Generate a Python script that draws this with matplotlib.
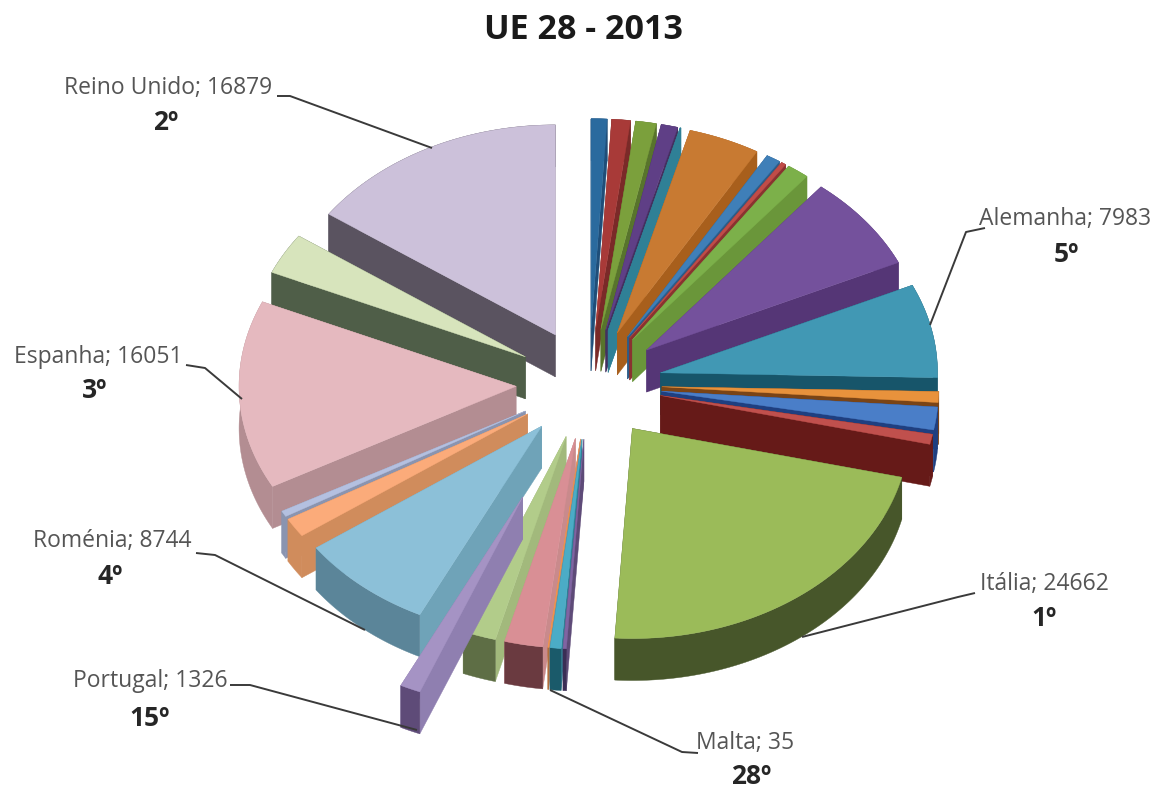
import numpy as np
import matplotlib
matplotlib.use("Agg")
import matplotlib.pyplot as plt

# Slices clockwise from 12 o'clock, only some of them carry a name
names = ["", "", "", "", "", "", "", "", "", "", "Alemanha", "", "", "", "Itália",
         "", "", "Malta", "", "", "Portugal", "Roménia", "", "", "Espanha", "", "Reino Unido"]
values = [1020, 1200, 1330, 1080, 60, 4620, 925, 310, 1450, 8100, 7983, 925, 1940, 860, 24662,
          215, 710, 35, 2470, 2160, 1326, 8744, 1640, 500, 16051, 3500, 16879]
ranks = {"Reino Unido": "2º", "Alemanha": "5º", "Espanha": "3º", "Itália": "1º",
         "Roménia": "4º", "Portugal": "15º", "Malta": "28º"}

top_colors = ["#2a6a9e", "#a83a38", "#7ba03c", "#5f3f86", "#2f8096", "#c87a32", "#3f7fb8", "#c04c48",
              "#7cb04a", "#74519c", "#4198b4", "#e8923c", "#4a7ec8", "#c0504d", "#9bbb59",
              "#8064a2", "#4bacc6", "#f79646", "#d98f95", "#b2cc8a", "#a593c4", "#8cc0d8",
              "#fbab7a", "#b4c0e0", "#e5b9bf", "#d7e4bc", "#ccc1da"]
rim_colors = ["#1f4e79", "#7a2a28", "#58742c", "#44305f", "#2f8096", "#a85f1c", "#2c5c88", "#8a3230",
              "#6a963a", "#553676", "#17556a", "#7a4416", "#1f3f80", "#661a18", "#47562a",
              "#3b2e55", "#1a5a6a", "#a8642c", "#6a3a40", "#5e6e45", "#5e4b78", "#5b8599",
              "#d08c5c", "#8a94b0", "#b38d92", "#4f5e48", "#5a5360"]
cut_colors = rim_colors[:15] + ["#5e4b78", "#2f7f96", "#c98a6a", "#c98a8c", "#a2b97c", "#8f7fb0", "#6fa3b8",
                                "#d08c5c", "#8a94b0", "#b38d92", "#4f5e48", "#5a5360"]

label_pos = {"Reino Unido": (168, 88), "Alemanha": (1065, 219), "Espanha": (98, 357), "Itália": (1044, 584),
             "Roménia": (112, 541), "Portugal": (150, 681), "Malta": (745, 743)}
rank_pos = {"Reino Unido": (166, 123), "Alemanha": (1066, 254), "Espanha": (95, 391), "Itália": (1044, 619),
            "Roménia": (110, 577), "Portugal": (150, 718), "Malta": (751, 776)}
leaders = {"Reino Unido": ([277, 290, 432], [96, 96, 148]), "Alemanha": ([985, 966, 930], [228, 232, 325]),
           "Espanha": ([186, 205, 242], [365, 368, 399]), "Itália": ([975, 958, 802], [593, 597, 637]),
           "Roménia": ([196, 215, 365], [553, 555, 630]), "Portugal": ([230, 250, 417], [685, 685, 730]),
           "Malta": ([698, 682, 550], [753, 752, 690])}

CX, CY = 589, 384
RX, RY = 277, 210
DEPTH = 42
EXPLODE = 73
PORTUGAL_EXPLODE = 163

plt.rcParams["font.family"] = ["Open Sans", "DejaVu Sans"]
fig = plt.figure(figsize=(11.64, 7.9), dpi=100)
ax = fig.add_axes([0, 0, 1, 1])
ax.set_xlim(0, 1164)
ax.set_ylim(790, 0)
ax.axis("off")

deg = np.array(values) / sum(values) * 360
ends = np.cumsum(deg)
starts = ends - deg
mids = np.radians((starts + ends) / 2)

expl = np.array([PORTUGAL_EXPLODE if n == "Portugal" else EXPLODE for n in names])
apex_x = CX + expl * np.sin(mids)
apex_y = CY - expl * RY / RX * np.cos(mids)


def draw_slice(i):
    t = np.radians(np.linspace(starts[i], ends[i], max(int(deg[i] * 2), 2)))
    arc_x = apex_x[i] + RX * np.sin(t)
    arc_y = apex_y[i] - RY * np.cos(t)
    x0, y0 = apex_x[i], apex_y[i]
    # the two cut faces, the outer rim, then the top on them
    for k in (0, -1):
        ax.fill([x0, arc_x[k], arc_x[k], x0], [y0, arc_y[k], arc_y[k] + DEPTH, y0 + DEPTH],
                color=cut_colors[i], lw=0.3)
    ax.fill(np.r_[arc_x, arc_x[::-1]], np.r_[arc_y, arc_y[::-1] + DEPTH], color=rim_colors[i], lw=0.3)
    ax.fill(np.r_[x0, arc_x], np.r_[y0, arc_y], color=top_colors[i], lw=0.3)


# back slices first
for i in np.argsort(apex_y):
    draw_slice(i)

ax.text(583, 30, "UE 28 - 2013", ha="center", va="center", fontsize=24.5, fontweight="bold", color="#1a1a1a")

for n, rank in ranks.items():
    v = values[names.index(n)]
    ax.text(*label_pos[n], f"{n}; {v}", ha="center", va="center", fontsize=16.5, color="#555555")
    ax.text(*rank_pos[n], rank, ha="center", va="center", fontsize=19, fontweight="bold", color="#262626")
    xs, ys = leaders[n]
    ax.plot(xs, ys, color="#3a3a3a", lw=1.4, solid_capstyle="butt")

fig.savefig("out.png", dpi=100)
